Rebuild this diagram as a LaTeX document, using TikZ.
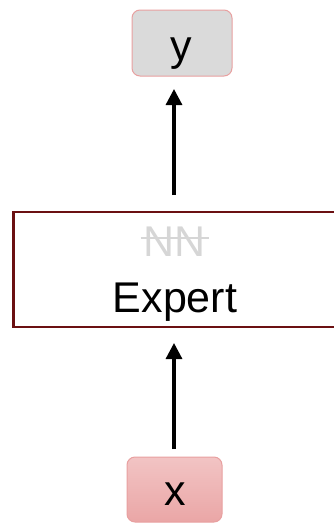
\documentclass[tikz,border=0pt]{standalone}
\usepackage{fontspec}
\setmainfont{Liberation Sans}
\usetikzlibrary{arrows.meta}
\definecolor{boxred}{HTML}{E8A0A0}
\definecolor{expertborder}{HTML}{6B1012}
\definecolor{ygray}{HTML}{DADADA}
\definecolor{xtop}{HTML}{F2C4C4}
\definecolor{xbot}{HTML}{EAA6A6}
\definecolor{nngray}{HTML}{D6D6D6}
\tikzset{
  x=1pt, y=1pt,
  bigtext/.style={font=\fontsize{43}{50}\selectfont, inner sep=0pt},
  iobox/.style={draw=boxred, line width=1pt, rounded corners=8pt},
  flow/.style={line width=3.2pt, -{Triangle[width=16pt,length=16pt]}},
}
\begin{document}
\begin{tikzpicture}
\useasboundingbox (0,0) rectangle (334,-523);
% output box
\draw[iobox, fill=ygray] (132,-10) rectangle (232,-76);
% input box
\draw[iobox, top color=xtop, bottom color=xbot] (127,-457) rectangle (222,-522);
% expert block, running past the right margin
\draw[expertborder, line width=2.5pt] (13.5,-212) rectangle (350,-327);
\node[bigtext, anchor=base] (y) at (181,-60) {y};
\node[bigtext, anchor=base] (x) at (175,-505) {x};
\node[bigtext, anchor=base, text=nngray] (nn) at (175,-256) {NN};
\draw[nngray, line width=1.5pt, shorten <=-3pt, shorten >=-3pt]
  ([yshift=3pt]nn.west) -- ([yshift=3pt]nn.east);
\node[bigtext, anchor=base] (expert) at (175,-312) {Expert};
\coordinate (upin) at (174,-195);
\coordinate (upout) at (174,-89);
\coordinate (lowin) at (174,-449);
\coordinate (lowout) at (174,-343);
\draw[flow] (upin) -- (upout);
\draw[flow] (lowin) -- (lowout);
\end{tikzpicture}
\end{document}
